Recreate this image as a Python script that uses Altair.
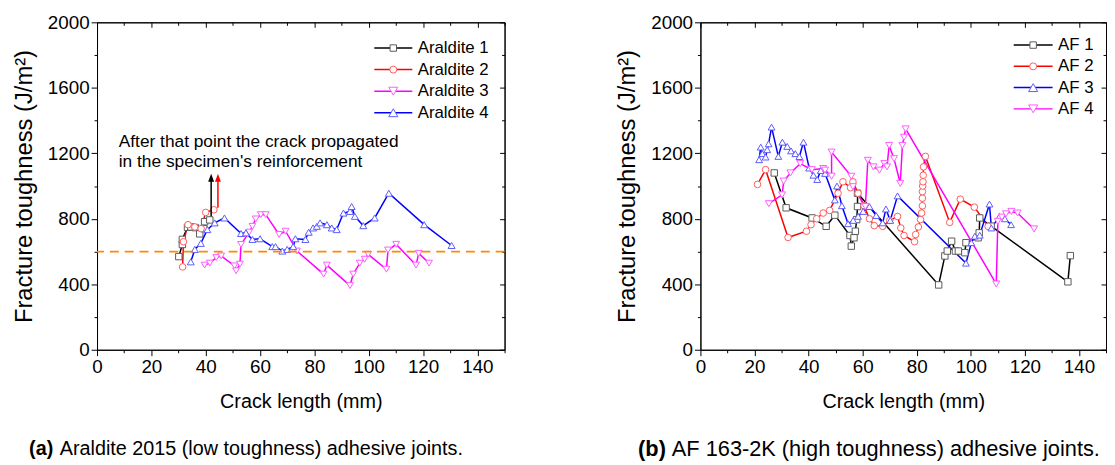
import altair as alt
import pandas as pd

FONT = "Liberation Sans"

# ---------------- Panel (a): Araldite 2015 ----------------
a_series = ["Araldite 1", "Araldite 2", "Araldite 3", "Araldite 4"]
a1_x = [30.1, 31.4, 31.4, 33.3, 34.5, 36.2, 37.8, 39.3, 39.6, 41.5]
a1_y = [569, 643, 674, 748, 750, 746, 708, 740, 782, 793]
a2_x = [31.5, 31.8, 33.5, 36.0, 38.3, 40.0, 43.0]
a2_y = [506, 660, 764, 750, 740, 839, 855]
a3_x = [39.6, 41.5, 43.9, 45.7, 50.6, 51.2, 52.6, 53.0, 56.0, 57.2, 58.4, 60.3, 62.1, 67.0, 69.4,
        73.6, 83.4, 84.6, 93.1, 94.3, 96.7, 98.5, 99.8, 106.5, 107.1, 110.1, 117.4, 118.4, 122.2]
a3_y = [517, 529, 563, 573, 512, 482, 523, 643, 718, 754, 799, 825, 825, 704, 724,
        603, 462, 517, 392, 462, 529, 553, 583, 492, 609, 644, 517, 589, 529]
a4_x = [34.5, 36.0, 38.2, 40.6, 43.3, 46.9, 53.0, 54.8, 57.2, 60.0, 64.5, 65.7, 68.2, 70.0, 72.2,
        73.0, 76.7, 77.9, 79.5, 80.9, 82.1, 84.6, 86.4, 88.2, 90.7, 93.1, 93.7, 94.9, 98.0, 102.2,
        107.4, 120.4, 130.5]
a4_y = [537, 613, 650, 734, 775, 805, 710, 714, 674, 678, 630, 630, 603, 613, 630,
        678, 674, 718, 744, 754, 775, 764, 744, 734, 835, 845, 875, 815, 758, 805,
        956, 764, 637]

# ---------------- Panel (b): AF 163-2K ----------------
b_series = ["AF 1", "AF 2", "AF 3", "AF 4"]
b1_x = [27.3, 31.7, 41.3, 46.5, 49.7, 55.3, 55.8, 56.8, 57.3, 57.8, 58.1, 58.1, 88.1, 90.4, 91.3,
        92.9, 94.3, 95.4, 97.8, 98.2, 102.7, 103.1, 103.3, 107.5, 135.9, 136.8]
b1_y = [1080, 867, 805, 754, 822, 698, 633, 684, 724, 795, 875, 956, 396, 573, 603,
        663, 603, 603, 593, 654, 684, 714, 805, 755, 415, 575]
b2_x = [21.1, 24.1, 32.4, 39.2, 40.9, 43.0, 45.4, 47.8, 50.9, 52.7, 55.5, 56.4, 58.3, 60.5, 62.5,
        64.3, 67.4, 70.0, 72.9, 74.1, 75.3, 79.2, 79.6, 80.6, 81.4, 81.8, 82.1, 82.1, 82.1, 82.2,
        82.3, 82.4, 82.5, 83.2, 92.2, 96.1, 101.3, 106.4]
b2_y = [1010, 1100, 686, 724, 764, 800, 835, 851, 956, 1026, 990, 1026, 956, 880, 800,
        758, 754, 790, 814, 744, 698, 660, 704, 750, 795, 835, 879, 926, 966, 1000,
        1026, 1066, 1117, 1181, 778, 920, 871, 754]
b3_x = [21.7, 22.3, 22.9, 24.1, 24.7, 25.2, 26.3, 28.8, 30.3, 32.1, 33.5, 35.1, 36.6, 38.1, 40.2,
        41.8, 43.2, 44.5, 46.1, 49.7, 50.5, 52.3, 54.6, 56.5, 58.3, 60.2, 62.5, 65.0, 67.4, 68.6,
        70.2, 72.9, 98.2, 100.2, 101.5, 103.3, 106.9, 107.6, 110.6, 112.6, 114.9]
b3_y = [1161, 1238, 1198, 1177, 1222, 1258, 1360, 1181, 1268, 1242, 1215, 1198, 1180, 1268, 1110,
        1066, 1040, 1095, 1077, 915, 1000, 880, 770, 790, 815, 845, 875, 820, 775, 860,
        790, 940, 529, 654, 694, 700, 890, 744, 815, 800, 764]
b4_x = [25.3, 30.2, 30.8, 33.3, 36.9, 41.2, 45.4, 46.1, 48.5, 48.5, 55.8, 56.4, 61.0, 61.9, 64.0,
        66.2, 68.0, 69.0, 69.8, 71.6, 73.9, 74.7, 75.3, 75.9, 109.4, 110.0, 111.5, 113.0, 115.0,
        117.3, 123.4]
b4_y = [892, 946, 1030, 1080, 1137, 1100, 1107, 1097, 1060, 1207, 1060, 996, 875, 1157, 1117,
        1097, 1137, 1117, 1248, 1167, 1016, 1248, 1298, 1349, 402, 784, 810, 830, 845,
        835, 738]

# styles per panel (series order as in each legend)
a_line_colors = ["#000000", "#ff0000", "#ff00ff", "#0000ff"]
a_marker_colors = ["#5a5a5a", "#ff5c5c", "#ff5cff", "#5c5cff"]
a_marker_shapes = ["square", "circle", "triangle-down", "triangle-up"]
a_marker_sizes = [42, 50, 85, 85]
b_line_colors = ["#000000", "#ff0000", "#0000ff", "#ff00ff"]
b_marker_colors = ["#5a5a5a", "#ff5c5c", "#5c5cff", "#ff5cff"]
b_marker_shapes = ["square", "circle", "triangle-up", "triangle-down"]
b_marker_sizes = [42, 50, 85, 85]

# annotations of panel (a)
ref_level = [600]
arrow_x = [42.0, 44.5]
arrow_y0 = [815, 867]
arrow_y1 = [1040, 1040]
arrow_head_y = [1051, 1051]
arrow_colors = ["#000000", "#ff0000"]
note_lines = ["After that point the crack propagated", "in the specimen's reinforcement"]
note_x = [8.0, 8.0]
note_y = [1266, 1145]

cap_a = ["(a)", "Araldite 2015 (low toughness) adhesive joints."]
cap_b = ["(b)", "AF 163-2K (high toughness) adhesive joints."]

H = 331


def make_df(series, xs, ys):
    rows = []
    for s, x, y in zip(series, xs, ys):
        for i, (xi, yi) in enumerate(zip(x, y)):
            rows.append({"series": s, "x": xi, "y": yi, "idx": i})
    return pd.DataFrame(rows)


XS = alt.Scale(domain=[0, 150], nice=False, zero=False)
YS = alt.Scale(domain=[0, 2000], nice=False, zero=False)

common_axis = dict(grid=False, domainColor="black", tickColor="black", labelColor="black",
                   titleColor="black", labelFont=FONT, titleFont=FONT, domainWidth=1, tickWidth=1,
                   titleFontWeight="normal", format="d")


def main_x_axis():
    return alt.Axis(values=list(range(0, 151, 10)),
                    labelExpr="(datum.value % 20 == 0 && datum.value <= 140) ? datum.label : ''",
                    tickSize={"condition": {"test": "datum.value % 20 == 0", "value": 6}, "value": 3},
                    title="Crack length (mm)", labelFontSize=19, titleFontSize=20,
                    labelFlush=False, labelOverlap=False, labelPadding=2, titlePadding=15,
                    **common_axis)


def main_y_axis():
    return alt.Axis(values=list(range(0, 2001, 200)),
                    labelExpr="(datum.value % 400 == 0) ? datum.label : ''",
                    tickSize={"condition": {"test": "datum.value % 400 == 0", "value": 6}, "value": 3},
                    title="Fracture toughness (J/m²)", labelFontSize=19, titleFontSize=24,
                    labelFlush=False, labelOverlap=False, labelPadding=2, titlePadding=11,
                    **common_axis)


def mirror_x_axis():
    return alt.Axis(orient="bottom", offset=-H, values=list(range(0, 151, 10)), labels=False,
                    tickSize={"condition": {"test": "datum.value % 20 == 0", "value": 5}, "value": 3},
                    title=None, **common_axis)


def mirror_y_axis(w):
    return alt.Axis(orient="left", offset=-w, values=list(range(0, 2001, 200)), labels=False,
                    tickSize={"condition": {"test": "datum.value % 400 == 0", "value": 5}, "value": 3},
                    title=None, **common_axis)


def legend_layers(series, styles, lx0, lx1, ly0, dy):
    line_colors, marker_colors, marker_shapes, marker_sizes = styles
    ldf = pd.DataFrame({"row": list(range(len(series))), "label": series, "lc": line_colors,
                        "mc": marker_colors, "shp": marker_shapes, "sz": marker_sizes})
    n = len(series) - 1
    LY = alt.Scale(domain=[0, n], range=[ly0, ly0 + n * dy])
    yenc = alt.Y("row:Q", scale=LY, axis=None)
    base = alt.Chart(ldf)
    seg = base.mark_rule(strokeWidth=1.5).encode(
        x=alt.value(lx0), x2=alt.value(lx1), y=yenc, color=alt.Color("lc:N", scale=None))
    mk = base.mark_point(filled=True, fill="white", strokeWidth=1, opacity=1).encode(
        x=alt.value((lx0 + lx1) / 2), y=yenc,
        stroke=alt.Stroke("mc:N", scale=None),
        shape=alt.Shape("shp:N", scale=None),
        size=alt.Size("sz:Q", scale=None))
    txt = base.mark_text(align="left", baseline="middle", fontSize=17, font=FONT,
                         color="black").encode(
        x=alt.value(lx1 + 5.5), y=yenc, text="label:N")
    return [seg, mk, txt]


def panel(series, xs_list, ys_list, styles, w, leg, caption, cap_x, cap_size,
          extra_layers=()):
    line_colors, marker_colors, marker_shapes, marker_sizes = styles
    df = make_df(series, xs_list, ys_list)
    base = alt.Chart(df)
    lines = base.mark_line(strokeWidth=1.5).encode(
        x=alt.X("x:Q", scale=XS, axis=main_x_axis()),
        y=alt.Y("y:Q", scale=YS, axis=main_y_axis()),
        color=alt.Color("series:N", scale=alt.Scale(domain=series, range=line_colors), legend=None),
        order="idx:Q",
    )
    points = base.mark_point(filled=True, fill="white", strokeWidth=1, opacity=1).encode(
        x=alt.X("x:Q", scale=XS, axis=None),
        y=alt.Y("y:Q", scale=YS, axis=None),
        stroke=alt.Stroke("series:N", scale=alt.Scale(domain=series, range=marker_colors), legend=None),
        shape=alt.Shape("series:N", scale=alt.Scale(domain=series, range=marker_shapes), legend=None),
        size=alt.Size("series:O", scale=alt.Scale(domain=series, range=marker_sizes), legend=None),
    )
    mirror = base.mark_point(opacity=0).encode(
        x=alt.X("x:Q", scale=XS, axis=mirror_x_axis()),
        y=alt.Y("y:Q", scale=YS, axis=mirror_y_axis(w)),
    )
    cap_df1 = pd.DataFrame({"t": [caption[0]]})
    cap_df2 = pd.DataFrame({"t": [caption[1]]})
    cap1 = alt.Chart(cap_df1).mark_text(align="left", baseline="middle", fontSize=cap_size, font=FONT,
                                        fontWeight="bold", color="black").encode(
        text="t:N", x=alt.value(cap_x), y=alt.value(431))
    cap2 = alt.Chart(cap_df2).mark_text(align="left", baseline="middle", fontSize=cap_size, font=FONT,
                                        color="black").encode(
        text="t:N", x=alt.value(cap_x + 1.55 * cap_size), y=alt.value(431))
    layers = ([lines, points] + list(extra_layers) + [mirror, cap1, cap2]
              + legend_layers(series, styles, *leg))
    return alt.layer(*layers).resolve_scale(y="independent").resolve_axis(
        x="independent", y="independent").properties(width=w, height=H)


# extra layers for panel (a)
arrow_df = pd.DataFrame({"x": arrow_x, "y0": arrow_y0, "y1": arrow_y1, "yh": arrow_head_y,
                         "c": arrow_colors})
arrows = alt.Chart(arrow_df).mark_rule(strokeWidth=1.5).encode(
    x=alt.X("x:Q", scale=XS, axis=None),
    y=alt.Y("y0:Q", scale=YS, axis=None),
    y2="y1:Q",
    color=alt.Color("c:N", scale=None),
)
heads = alt.Chart(arrow_df).mark_point(shape="M0,-1L-0.75,1L0.75,1Z", filled=True, size=64,
                                       opacity=1).encode(
    x=alt.X("x:Q", scale=XS, axis=None),
    y=alt.Y("yh:Q", scale=YS, axis=None),
    color=alt.Color("c:N", scale=None),
)
dash = alt.Chart(pd.DataFrame({"y": ref_level})).mark_rule(
    color="#ff8a00", strokeDash=[9, 6], strokeWidth=1.8).encode(
    y=alt.Y("y:Q", scale=YS, axis=None))
note = alt.Chart(pd.DataFrame({"x": note_x, "y": note_y, "t": note_lines})).mark_text(
    align="left", baseline="middle", fontSize=17.5, font=FONT, color="black").encode(
    x=alt.X("x:Q", scale=XS, axis=None),
    y=alt.Y("y:Q", scale=YS, axis=None),
    text="t:N",
)

panel_a = panel(a_series, [a1_x, a2_x, a3_x, a4_x], [a1_y, a2_y, a3_y, a4_y],
                (a_line_colors, a_marker_colors, a_marker_shapes, a_marker_sizes), 412,
                (280.3, 318.7, 26.0, 21.8), cap_a, -68.7, 20,
                extra_layers=[dash, arrows, heads, note])
panel_b = panel(b_series, [b1_x, b2_x, b3_x, b4_x], [b1_y, b2_y, b3_y, b4_y],
                (b_line_colors, b_marker_colors, b_marker_shapes, b_marker_sizes), 410,
                (316.7, 356.0, 23.0, 21.5), cap_b, -63, 22)

chart = alt.hconcat(panel_a, panel_b, spacing=110).resolve_scale(
    color="independent", stroke="independent", shape="independent", size="independent"
).properties(
    padding={"left": 4, "top": 2, "right": 0, "bottom": 0},
    background="white",
).configure_view(stroke="black", strokeWidth=1)

chart.save("out.html", embed_options={"renderer": "svg", "actions": False})
